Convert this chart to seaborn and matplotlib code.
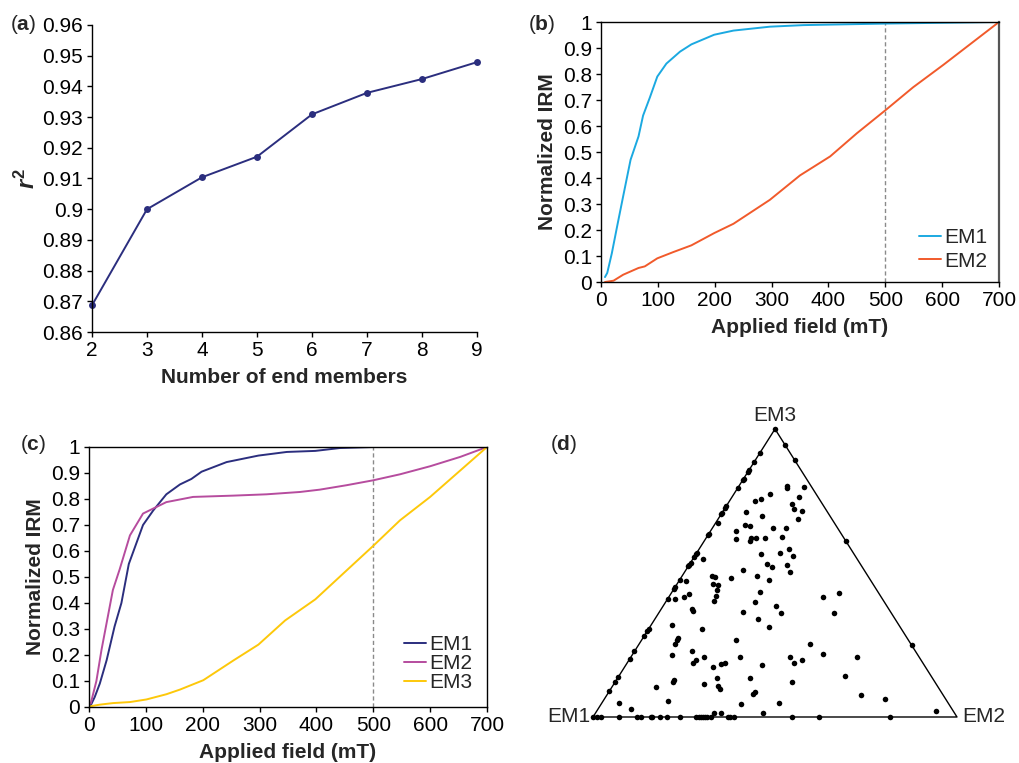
import numpy as np
import pandas as pd
import matplotlib
matplotlib.use("Agg")
import matplotlib.pyplot as plt
import seaborn as sns

# ---------------- data ----------------
# (a) goodness of fit vs number of end members
n_members = [2, 3, 4, 5, 6, 7, 8, 9]
r2_values = [0.8687, 0.9000, 0.9104, 0.9171, 0.9309, 0.9379, 0.9424, 0.9479]

# (b) two end-member IRM acquisition curves
b_em1_field = [7, 11, 19, 28, 39, 52, 66, 74, 86, 99, 115, 139, 159, 199, 233, 297, 356, 403, 502, 700]
b_em1_irm = [0.019, 0.035, 0.11, 0.21, 0.33, 0.47, 0.56, 0.64, 0.71, 0.79, 0.84, 0.886, 0.914,
             0.951, 0.967, 0.982, 0.988, 0.990, 0.994, 1.0]
b_em2_field = [7, 22, 39, 66, 77, 99, 127, 159, 199, 233, 297, 350, 403, 450, 501, 549, 602, 700]
b_em2_irm = [0.0, 0.005, 0.028, 0.054, 0.060, 0.091, 0.115, 0.141, 0.188, 0.224, 0.316, 0.41,
             0.483, 0.572, 0.662, 0.749, 0.835, 1.0]

# (c) three end-member IRM acquisition curves
c_em1_field = [3, 10, 19, 31, 45, 57, 70, 95, 113, 136, 160, 180, 198, 242, 298, 348, 398, 441, 500, 700]
c_em1_irm = [0.006, 0.038, 0.09, 0.18, 0.31, 0.40, 0.55, 0.70, 0.756, 0.818, 0.856, 0.877, 0.905,
             0.942, 0.967, 0.981, 0.985, 0.996, 1.0, 1.0]
c_em2_field = [3, 13, 22, 42, 54, 72, 95, 136, 183, 254, 312, 371, 406, 453, 500, 547, 600, 653, 700]
c_em2_irm = [0.013, 0.10, 0.22, 0.45, 0.53, 0.66, 0.744, 0.788, 0.808, 0.813, 0.818, 0.827, 0.836,
             0.853, 0.872, 0.895, 0.926, 0.962, 1.0]
c_em3_field = [3, 19, 42, 72, 101, 136, 160, 201, 254, 298, 345, 398, 447, 501, 547, 600, 700]
c_em3_irm = [0.003, 0.009, 0.015, 0.019, 0.029, 0.049, 0.067, 0.103, 0.179, 0.24, 0.333, 0.414,
             0.513, 0.622, 0.718, 0.808, 1.0]

# (d) ternary compositions (fractions of EM2 and EM3; EM1 = 1 - EM2 - EM3)
edge13_em3 = [1.0, 0.916, 0.884, 0.858, 0.852, 0.828, 0.822, 0.795, 0.733, 0.727, 0.708, 0.704,
              0.636, 0.632, 0.571, 0.565, 0.557, 0.536, 0.528, 0.523, 0.476, 0.451, 0.445, 0.410,
              0.305, 0.298, 0.280, 0.228, 0.201, 0.139, 0.121, 0.090, 0.0]
edge12_em2 = [0.011, 0.021, 0.072, 0.121, 0.133, 0.159, 0.162, 0.185, 0.203, 0.239, 0.284, 0.290,
              0.297, 0.303, 0.308, 0.312, 0.323, 0.370, 0.376, 0.387, 0.547, 0.621, 0.816]
edge23_em3 = [0.945, 0.891, 0.612, 0.250]
inner_em2 = [0.131, 0.137, 0.182, 0.097, 0.083, 0.070, 0.184, 0.176, 0.191, 0.217, 0.063, 0.115,
             0.219, 0.083, 0.100, 0.167, 0.202, 0.069, 0.084, 0.123, 0.127, 0.138, 0.160, 0.207,
             0.246, 0.228, 0.270, 0.178, 0.212, 0.232, 0.268, 0.289, 0.158, 0.206, 0.246, 0.136,
             0.082, 0.091, 0.098, 0.114, 0.121, 0.127, 0.131, 0.243, 0.245, 0.309, 0.335, 0.230,
             0.281, 0.327, 0.422, 0.459, 0.481, 0.083, 0.092, 0.146, 0.057, 0.097, 0.097, 0.099,
             0.258, 0.108, 0.157, 0.182, 0.183, 0.200, 0.242, 0.261, 0.268, 0.299, 0.374, 0.435,
             0.460, 0.476, 0.469, 0.522, 0.620, 0.621, 0.699, 0.773, 0.364, 0.401, 0.400, 0.384,
             0.487, 0.485, 0.273, 0.290, 0.301, 0.248, 0.160, 0.161, 0.120, 0.179, 0.046, 0.090,
             0.008, 0.027, 0.020, 0.051, 0.041, 0.020, 0.325, 0.345, 0.460, 0.933]
inner_em3 = [0.802, 0.794, 0.798, 0.776, 0.756, 0.750, 0.763, 0.739, 0.723, 0.716, 0.713, 0.699,
             0.686, 0.668, 0.664, 0.657, 0.657, 0.646, 0.618, 0.620, 0.610, 0.620, 0.623, 0.624,
             0.585, 0.569, 0.560, 0.566, 0.531, 0.521, 0.529, 0.504, 0.510, 0.488, 0.474, 0.484,
             0.490, 0.487, 0.461, 0.460, 0.442, 0.420, 0.403, 0.434, 0.400, 0.385, 0.361, 0.364,
             0.342, 0.313, 0.418, 0.432, 0.362, 0.376, 0.368, 0.305, 0.319, 0.273, 0.266, 0.252,
             0.267, 0.216, 0.230, 0.187, 0.198, 0.210, 0.175, 0.184, 0.187, 0.210, 0.179, 0.210,
             0.187, 0.199, 0.253, 0.218, 0.208, 0.141, 0.075, 0.061, 0.135, 0.088, 0.080, 0.044,
             0.049, 0.121, 0.135, 0.106, 0.097, 0.116, 0.127, 0.120, 0.104, 0.055, 0.049, 0.028,
             0.673, 0.549, 0.471, 0.428, 0.418, 0.410, 0.013, 0.013, 0.013, 0.021]

vertex_labels = ["EM1", "EM2", "EM3"]

# ---------------- style ----------------
sns.set_theme(style="ticks")
plt.rcParams["font.family"] = ["Liberation Sans", "DejaVu Sans"]
plt.rcParams["mathtext.fontset"] = "custom"
plt.rcParams["mathtext.rm"] = "Liberation Sans"
plt.rcParams["mathtext.bf"] = "Liberation Sans:bold"
plt.rcParams["mathtext.it"] = "Liberation Sans:italic:bold"
plt.rcParams["axes.edgecolor"] = "black"
plt.rcParams["axes.linewidth"] = 1.0

FS = 15
W, H = 1019, 763
fig = plt.figure(figsize=(W / 100, H / 100), dpi=100)


def ax_px(x0, y0, x1, y1):
    return fig.add_axes([x0 / W, 1 - y1 / H, (x1 - x0) / W, (y1 - y0) / H])


def style_ticks(ax):
    ax.tick_params(axis="both", direction="out", length=3.5, width=1, pad=3,
                   labelsize=FS, colors="black")


navy = "#2B2E7E"
LW = 1.4

# ---------------- (a) ----------------
axa = ax_px(92, 25, 477, 332)
sns.lineplot(x=n_members, y=r2_values, ax=axa, color=navy, lw=LW, marker="o",
             markersize=5, markeredgewidth=0)
axa.set_xlim(2, 9)
axa.set_ylim(0.86, 0.96)
axa.set_xticks(n_members)
yt = np.round(np.arange(0.86, 0.9601, 0.01), 2)
axa.set_yticks(yt)
axa.set_yticklabels([f"{v:g}" for v in yt])
sns.despine(ax=axa)
style_ticks(axa)
axa.set_xlabel("Number of end members", fontsize=FS, fontweight="bold", labelpad=6)
axa.set_ylabel(r"$r^{\mathbf{2}}$", fontsize=FS + 2, labelpad=2)
for c in axa.get_lines():
    c.set_clip_on(False)


def irm_axes(ax):
    ax.set_xlim(0, 700)
    ax.set_ylim(0, 1)
    ax.set_xticks(range(0, 701, 100))
    yt = np.round(np.arange(0, 1.01, 0.1), 1)
    ax.set_yticks(yt)
    ax.set_yticklabels([f"{v:g}" for v in yt])
    style_ticks(ax)
    ax.axvline(500, color="#8a8a8a", lw=1, ls=(0, (3, 2)), zorder=1)
    ax.set_xlabel("Applied field (mT)", fontsize=FS, fontweight="bold", labelpad=6)
    ax.set_ylabel("Normalized IRM", fontsize=FS, fontweight="bold", labelpad=4)
    for s in ax.spines.values():
        s.set_color("black")
        s.set_linewidth(1.0)
    ax.spines["right"].set_color("#555555")
    ax.spines["right"].set_linewidth(1.6)


# ---------------- (b) ----------------
axb = ax_px(601, 22, 999, 282)
df_b = pd.concat([
    pd.DataFrame({"field": b_em1_field, "irm": b_em1_irm, "em": "EM1"}),
    pd.DataFrame({"field": b_em2_field, "irm": b_em2_irm, "em": "EM2"}),
])
sns.lineplot(data=df_b, x="field", y="irm", hue="em", ax=axb, estimator=None,
             palette={"EM1": "#1BA9E1", "EM2": "#F15A2B"}, lw=LW)
irm_axes(axb)
axb.legend(loc="lower right", frameon=False, fontsize=FS, handlelength=1.05,
           handletextpad=0.15, labelspacing=0.2, borderaxespad=0.15)

# ---------------- (c) ----------------
axc = ax_px(89, 447, 487, 707)
df_c = pd.concat([
    pd.DataFrame({"field": c_em1_field, "irm": c_em1_irm, "em": "EM1"}),
    pd.DataFrame({"field": c_em2_field, "irm": c_em2_irm, "em": "EM2"}),
    pd.DataFrame({"field": c_em3_field, "irm": c_em3_irm, "em": "EM3"}),
])
sns.lineplot(data=df_c, x="field", y="irm", hue="em", ax=axc, estimator=None,
             palette={"EM1": navy, "EM2": "#B64C9E", "EM3": "#FDC80A"}, lw=LW)
irm_axes(axc)
axc.spines["right"].set_color("black")
axc.spines["right"].set_linewidth(1.0)
axc.legend(loc="lower right", frameon=False, fontsize=FS, handlelength=1.05,
           handletextpad=0.15, labelspacing=0.0, borderaxespad=0.3)

# ---------------- (d) ternary ----------------
axd = ax_px(593, 429, 957, 717)
em2_all = np.concatenate([np.zeros(len(edge13_em3)), edge12_em2,
                          1 - np.array(edge23_em3), inner_em2])
em3_all = np.concatenate([edge13_em3, np.zeros(len(edge12_em2)), edge23_em3, inner_em3])
df_d = pd.DataFrame({"x": em2_all + em3_all / 2, "y": em3_all})
tri = pd.DataFrame({"x": [0, 1, 0.5, 0], "y": [0, 0, 1, 0]})
axd.plot(tri["x"], tri["y"], color="black", lw=1.0, clip_on=False)
sns.scatterplot(data=df_d, x="x", y="y", ax=axd, color="black", s=16, linewidth=0,
                clip_on=False, zorder=3)
axd.set_xlim(0, 1)
axd.set_ylim(0, 1)
axd.set_axis_off()
axd.annotate(vertex_labels[2], xy=(0.5, 1), xytext=(0, 3), textcoords="offset points",
             ha="center", va="bottom", fontsize=FS)
axd.annotate(vertex_labels[0], xy=(0, 0), xytext=(-2, 0), textcoords="offset points",
             ha="right", va="center", fontsize=FS)
axd.annotate(vertex_labels[1], xy=(1, 0), xytext=(4, 0), textcoords="offset points",
             ha="left", va="center", fontsize=FS)

# ---------------- panel labels ----------------
for lab, px, py in [("a", 10, 25), ("b", 528, 25), ("c", 20, 445), ("d", 550, 445)]:
    fig.text(px / W, 1 - py / H, rf"($\mathbf{{{lab}}}$)", fontsize=FS, ha="left", va="center")

fig.savefig("out.png", dpi=100)
